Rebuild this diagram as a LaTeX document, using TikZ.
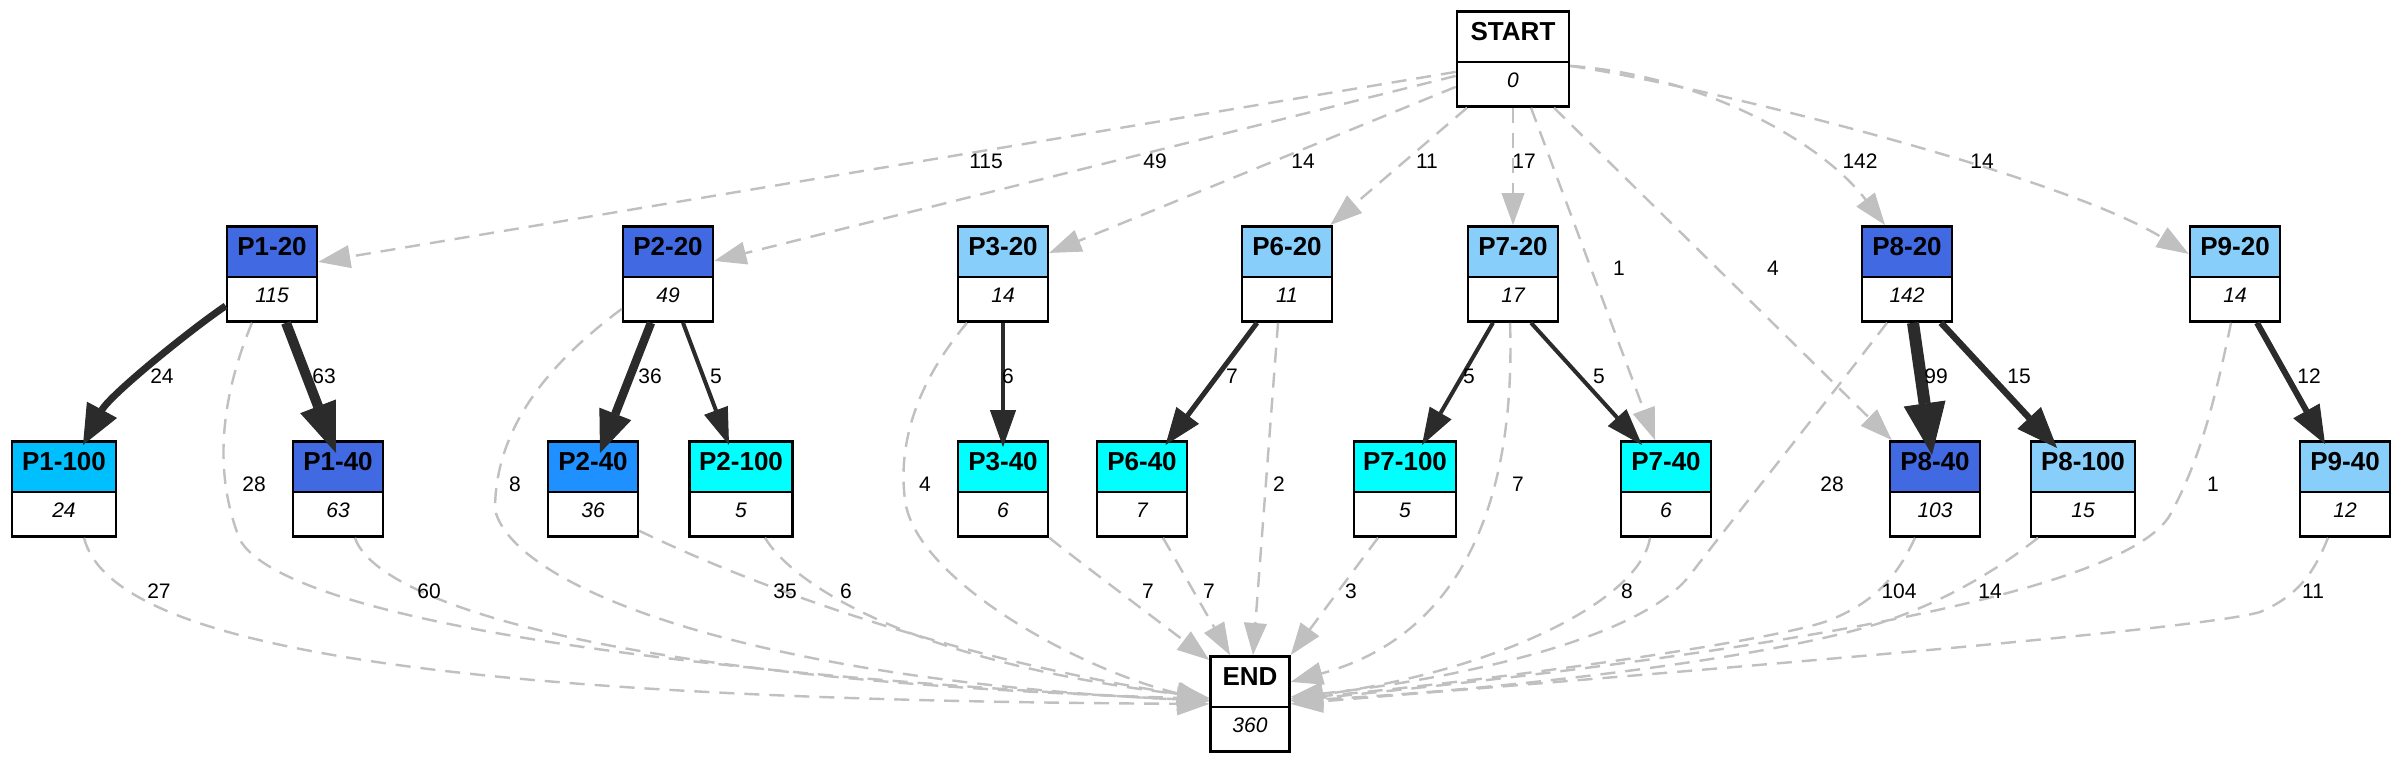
\documentclass[tikz,border=0pt]{standalone}
\usepackage{fontspec}
\setmainfont{Liberation Sans}
\usetikzlibrary{shapes.multipart,arrows.meta,calc}
\definecolor{royal}{HTML}{4169E1}
\definecolor{dsky}{HTML}{00BFFF}
\definecolor{dodger}{HTML}{1E90FF}
\definecolor{cyanc}{HTML}{00FFFF}
\definecolor{lsky}{HTML}{87CEFA}
\definecolor{edgegray}{HTML}{C0C0C0}
\definecolor{edgedark}{HTML}{2B2B2B}
\newcommand{\btitle}[1]{\fontsize{26pt}{26pt}\selectfont\bfseries\rule[-20pt]{0pt}{48pt}#1}
\newcommand{\bnum}[1]{\fontsize{21pt}{21pt}\selectfont\itshape\rule[-18pt]{0pt}{42pt}#1}
\tikzset{
  box/.style={rectangle split, rectangle split parts=2, draw=black, line width=2.6pt,
    inner sep=0pt, anchor=north, minimum width=90pt},
  gedge/.style={draw=edgegray, line width=2.4pt, dash pattern=on 15pt off 10pt,
    -{Triangle[length=32pt,width=23pt,line width=1pt]}},
  bedge/.style n args={3}{draw=edgedark, line width=#1,
    -{Triangle[length=#2,width=#3,line width=1pt]}},
  elabel/.style={font=\fontsize{21pt}{21pt}\selectfont, inner sep=0pt}
}
\begin{document}
\begin{tikzpicture}[x=1pt,y=-1pt]
\useasboundingbox (0,0) rectangle (2400,756);
\fill[white] (0,0) rectangle (2400,756);
% nodes
\node[box, rectangle split part fill={white,white}, minimum width=112pt] (start) at (1513,10) {\btitle{START}\nodepart{two}\bnum{0}};
\node[box, rectangle split part fill={royal,white}] (p120) at (272,225) {\btitle{P1-20}\nodepart{two}\bnum{115}};
\node[box, rectangle split part fill={dsky,white}, minimum width=104pt] (p1100) at (64,440) {\btitle{P1-100}\nodepart{two}\bnum{24}};
\node[box, rectangle split part fill={royal,white}] (p140) at (338,440) {\btitle{P1-40}\nodepart{two}\bnum{63}};
\node[box, rectangle split part fill={royal,white}] (p220) at (668,225) {\btitle{P2-20}\nodepart{two}\bnum{49}};
\node[box, rectangle split part fill={dodger,white}] (p240) at (593,440) {\btitle{P2-40}\nodepart{two}\bnum{36}};
\node[box, rectangle split part fill={cyanc,white}, minimum width=103pt] (p2100) at (741,440) {\btitle{P2-100}\nodepart{two}\bnum{5}};
\node[box, rectangle split part fill={lsky,white}] (p320) at (1003,225) {\btitle{P3-20}\nodepart{two}\bnum{14}};
\node[box, rectangle split part fill={cyanc,white}] (p340) at (1003,440) {\btitle{P3-40}\nodepart{two}\bnum{6}};
\node[box, rectangle split part fill={lsky,white}] (p620) at (1287,225) {\btitle{P6-20}\nodepart{two}\bnum{11}};
\node[box, rectangle split part fill={cyanc,white}] (p640) at (1142,440) {\btitle{P6-40}\nodepart{two}\bnum{7}};
\node[box, rectangle split part fill={lsky,white}] (p720) at (1513,225) {\btitle{P7-20}\nodepart{two}\bnum{17}};
\node[box, rectangle split part fill={cyanc,white}, minimum width=102pt] (p7100) at (1405,440) {\btitle{P7-100}\nodepart{two}\bnum{5}};
\node[box, rectangle split part fill={cyanc,white}] (p740) at (1666,440) {\btitle{P7-40}\nodepart{two}\bnum{6}};
\node[box, rectangle split part fill={royal,white}] (p820) at (1907,225) {\btitle{P8-20}\nodepart{two}\bnum{142}};
\node[box, rectangle split part fill={royal,white}] (p840) at (1935,440) {\btitle{P8-40}\nodepart{two}\bnum{103}};
\node[box, rectangle split part fill={lsky,white}, minimum width=104pt] (p8100) at (2083,440) {\btitle{P8-100}\nodepart{two}\bnum{15}};
\node[box, rectangle split part fill={lsky,white}] (p920) at (2235,225) {\btitle{P9-20}\nodepart{two}\bnum{14}};
\node[box, rectangle split part fill={lsky,white}] (p940) at (2345,440) {\btitle{P9-40}\nodepart{two}\bnum{12}};
\node[box, rectangle split part fill={white,white}, minimum width=79pt] (endn) at (1250,655) {\btitle{END}\nodepart{two}\bnum{360}};
% START edges
\draw[gedge] ([yshift=-13pt]start.west) -- ([yshift=12pt]p120.east);
\draw[gedge] ([yshift=-17pt]start.west) -- ([yshift=13pt]p220.east);
\draw[gedge] ([yshift=-28pt]start.west) -- ([yshift=21pt]p320.east);
\draw[gedge] ([xshift=-46pt]start.south) -- ([xshift=-3pt]p620.north east);
\draw[gedge] (start.south) -- (p720.north);
\draw[gedge] ([xshift=18pt]start.south) -- ([xshift=-11pt]p740.north);
\draw[gedge] ([xshift=41pt]start.south) -- ([xshift=3pt]p840.north west);
\draw[gedge] ([yshift=-7pt]start.east) .. controls (1700,75) and (1820,140) .. ([xshift=-22pt]p820.north);
\draw[gedge] ([yshift=-7pt]start.east) .. controls (1700,85) and (2060,175) .. ([yshift=20pt]p920.west);
% P1
\draw[bedge={7pt}{40pt}{34pt}] ([yshift=-32pt]p120.west) .. controls (190,330) and (110,395) .. ([xshift=19pt,yshift=-5pt]p1100.north);
\draw[bedge={10pt}{50pt}{38pt}] ([xshift=14pt]p120.south) -- ([xshift=-2pt,yshift=-13pt]p140.north);
\draw[gedge] ([xshift=-20pt]p120.south) .. controls (222,395) and (212,470) .. (240,540) .. controls (280,610) and (600,670) .. ([yshift=3pt]endn.west);
% P2
\draw[bedge={8.5pt}{42pt}{34pt}] ([xshift=-17pt]p220.south) -- ([xshift=7pt,yshift=-13pt]p240.north);
\draw[bedge={4pt}{37pt}{25pt}] ([xshift=15pt]p220.south) -- ([xshift=-12pt,yshift=-5pt]p2100.north);
\draw[gedge] ([yshift=-35pt]p220.west) .. controls (560,355) and (495,420) .. (495,510) .. controls (515,590) and (760,680) .. ([yshift=3pt]endn.west);
% P3
\draw[bedge={4.5pt}{37pt}{26pt}] (p320.south) -- ([yshift=-7pt]p340.north);
\draw[gedge] ([xshift=-36pt]p320.south) .. controls (915,385) and (898,445) .. (905,500) .. controls (915,580) and (1080,670) .. ([yshift=3pt]endn.west);
% P6
\draw[bedge={5pt}{37pt}{28pt}] ([xshift=-30pt]p620.south) -- ([xshift=23.5pt,yshift=-5pt]p640.north);
\draw[gedge] ([xshift=-9pt]p620.south) -- ([xshift=3pt]endn.north);
% P7
\draw[bedge={4pt}{37pt}{25pt}] ([xshift=-20pt]p720.south) -- ([xshift=17pt,yshift=-5pt]p7100.north);
\draw[bedge={4pt}{37pt}{25pt}] ([xshift=18pt]p720.south) -- ([xshift=-24pt,yshift=-5pt]p740.north);
\draw[gedge] ([xshift=-3pt]p720.south) .. controls (1515,470) and (1480,630) .. ([yshift=22pt]endn.east);
% P8
\draw[bedge={12pt}{52pt}{42pt}] ([xshift=6pt]p820.south) -- ([xshift=-3pt,yshift=-15pt]p840.north);
\draw[bedge={6.5pt}{41pt}{32pt}] ([xshift=34pt]p820.south) -- ([xshift=-26pt,yshift=-8pt]p8100.north);
\draw[gedge] ([xshift=-20pt]p820.south) .. controls (1820,410) and (1740,510) .. (1690,575) .. controls (1640,640) and (1450,680) .. ([yshift=7pt]endn.east);
% P9
\draw[bedge={6pt}{38pt}{30pt}] ([xshift=22pt]p920.south) -- ([xshift=-20pt,yshift=-4pt]p940.north);
\draw[gedge] ([xshift=-4pt]p920.south) .. controls (2215,400) and (2200,460) .. (2170,515) .. controls (2120,600) and (1700,660) .. ([yshift=3pt]endn.east);
% second row to END
\draw[gedge] ([xshift=20pt]p1100.south) .. controls (110,640) and (400,700) .. (endn.west);
\draw[gedge] ([xshift=17pt]p140.south) .. controls (375,600) and (600,680) .. ([yshift=5pt]endn.west);
\draw[gedge] ([yshift=7pt]p240.south east) .. controls (700,560) and (900,650) .. ([yshift=5pt]endn.west);
\draw[gedge] ([xshift=24pt]p2100.south) .. controls (790,580) and (900,660) .. ([yshift=6pt]endn.west);
\draw[gedge] (p340.south east) .. controls (1090,570) and (1170,630) .. ([yshift=-5pt]endn.north west);
\draw[gedge] ([xshift=21pt]p640.south) -- ([xshift=-20pt]endn.north);
\draw[gedge] ([xshift=-27pt]p7100.south) -- (endn.north east);
\draw[gedge] ([xshift=-16pt]p740.south) .. controls (1640,600) and (1500,670) .. ([yshift=5pt]endn.east);
\draw[gedge] ([xshift=-20pt]p840.south) .. controls (1900,570) and (1880,600) .. (1830,620) .. controls (1780,640) and (1500,680) .. ([yshift=5pt]endn.east);
\draw[gedge] ([xshift=-45pt]p8100.south) .. controls (2010,560) and (1960,595) .. (1889,620) .. controls (1780,658) and (1500,690) .. ([yshift=3pt]endn.east);
\draw[gedge] ([xshift=-17pt]p940.south) .. controls (2315,570) and (2300,595) .. (2260,612) .. controls (2200,630) and (1700,670) .. (endn.east);
% labels
\node[elabel] (la1) at (986,161) {115};
\node[elabel] (la2) at (1155,161) {49};
\node[elabel] (la3) at (1303,161) {14};
\node[elabel] (la4) at (1427,161) {11};
\node[elabel] (la5) at (1524,161) {17};
\node[elabel] (la6) at (1860,161) {142};
\node[elabel] (la7) at (1982,161) {14};
\node[elabel] (la8) at (1619,268) {1};
\node[elabel] (la9) at (1773,268) {4};
\node[elabel] (lb1) at (162,376) {24};
\node[elabel] (lb2) at (324,376) {63};
\node[elabel] (lb3) at (650,376) {36};
\node[elabel] (lb4) at (716,376) {5};
\node[elabel] (lb5) at (1008,376) {6};
\node[elabel] (lb6) at (1232,376) {7};
\node[elabel] (lb7) at (1469,376) {5};
\node[elabel] (lb8) at (1599,376) {5};
\node[elabel] (lb9) at (1936,376) {99};
\node[elabel] (lb10) at (2019,376) {15};
\node[elabel] (lb11) at (2309,376) {12};
\node[elabel] (lc1) at (254,484) {28};
\node[elabel] (lc2) at (515,484) {8};
\node[elabel] (lc3) at (925,484) {4};
\node[elabel] (lc4) at (1279,484) {2};
\node[elabel] (lc5) at (1518,484) {7};
\node[elabel] (lc6) at (1832,484) {28};
\node[elabel] (lc7) at (2213,484) {1};
\node[elabel] (ld1) at (159,591) {27};
\node[elabel] (ld2) at (429,591) {60};
\node[elabel] (ld3) at (785,591) {35};
\node[elabel] (ld4) at (846,591) {6};
\node[elabel] (ld5) at (1148,591) {7};
\node[elabel] (ld6) at (1209,591) {7};
\node[elabel] (ld7) at (1351,591) {3};
\node[elabel] (ld8) at (1627,591) {8};
\node[elabel] (ld9) at (1899,591) {104};
\node[elabel] (ld10) at (1990,591) {14};
\node[elabel] (ld11) at (2313,591) {11};
\end{tikzpicture}
\end{document}
